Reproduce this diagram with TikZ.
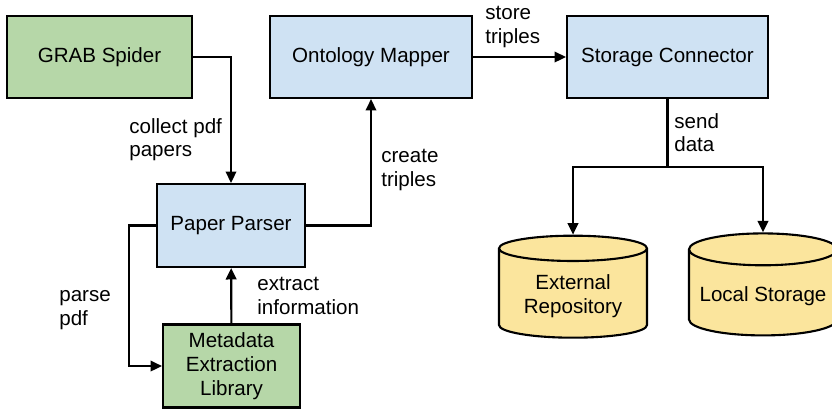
\documentclass[tikz,border=0pt]{standalone}
\usepackage{fontspec}
\setmainfont{Liberation Sans}
\usetikzlibrary{arrows.meta,shapes.geometric}
\definecolor{boxgreen}{HTML}{B6D7A8}
\definecolor{boxblue}{HTML}{CFE2F3}
\definecolor{dbyellow}{HTML}{FBE59D}
\begin{document}
\begin{tikzpicture}[
		box/.style={draw,line width=1.2pt,minimum height=1.64cm,font=\fontsize{11.7}{13.6}\selectfont,align=center},
		store/.style={draw,line width=1.2pt,fill=dbyellow,cylinder,shape border rotate=90,aspect=0.23,minimum width=2.96cm,minimum height=2.04cm,font=\fontsize{11.7}{13.6}\selectfont,align=center},
		lbl/.style={anchor=west,align=left,inner sep=0pt,font=\fontsize{11.7}{13.2}\selectfont},
		conn/.style={line width=1.2pt,-{Triangle[length=6.5pt,width=6pt]}}
	]
		\useasboundingbox (0,0) rectangle (16.64,-8.16);
		
		\node[box,fill=boxgreen,minimum width=3.70cm] (spider) at (1.99,-1.14) {GRAB Spider};
		\node[box,fill=boxblue,minimum width=4.04cm] (mapper) at (7.42,-1.14) {Ontology Mapper};
		\node[box,fill=boxblue,minimum width=4.02cm] (connector) at (13.35,-1.14) {Storage Connector};
		\node[box,fill=boxblue,minimum width=2.96cm,minimum height=1.66cm] (parser) at (4.62,-4.51) {Paper Parser};
		\node[box,fill=boxgreen,minimum width=2.74cm,minimum height=1.66cm] (metadata) at (4.63,-7.32) {Metadata\\Extraction\\Library};
		
		\node[store] (external) at (11.46,-5.92) {External\\Repository};
		\node[store] (local) at (15.26,-5.92) {Local Storage};
		
		\coordinate (split) at (13.35,-3.34);
		
		\node[lbl] (collect) at (2.58,-2.80) {collect pdf\\papers};
		\node[lbl] (create) at (7.62,-3.40) {create\\triples};
		\node[lbl] (storelbl) at (9.70,-0.54) {store\\triples};
		\node[lbl] (send) at (13.48,-2.66) {send\\data};
		\node[lbl] (extract) at (5.14,-5.92) {extract\\information};
		\node[lbl] (parse) at (1.18,-6.20) {parse\\pdf};
		
		\draw[conn] (spider) -| (parser);
		\draw[conn] (parser) -| (mapper);
		\draw[conn] (mapper) to (connector);
		\draw[line width=1.2pt] (connector) to (split);
		\draw[conn] (split) -| (external);
		\draw[conn] (split) -| (local);
		\draw[conn] (metadata) to (parser);
		\draw[conn] (parser.west) -- ++(-0.54,0) |- (metadata.west);
		
	\end{tikzpicture}
\end{document}
